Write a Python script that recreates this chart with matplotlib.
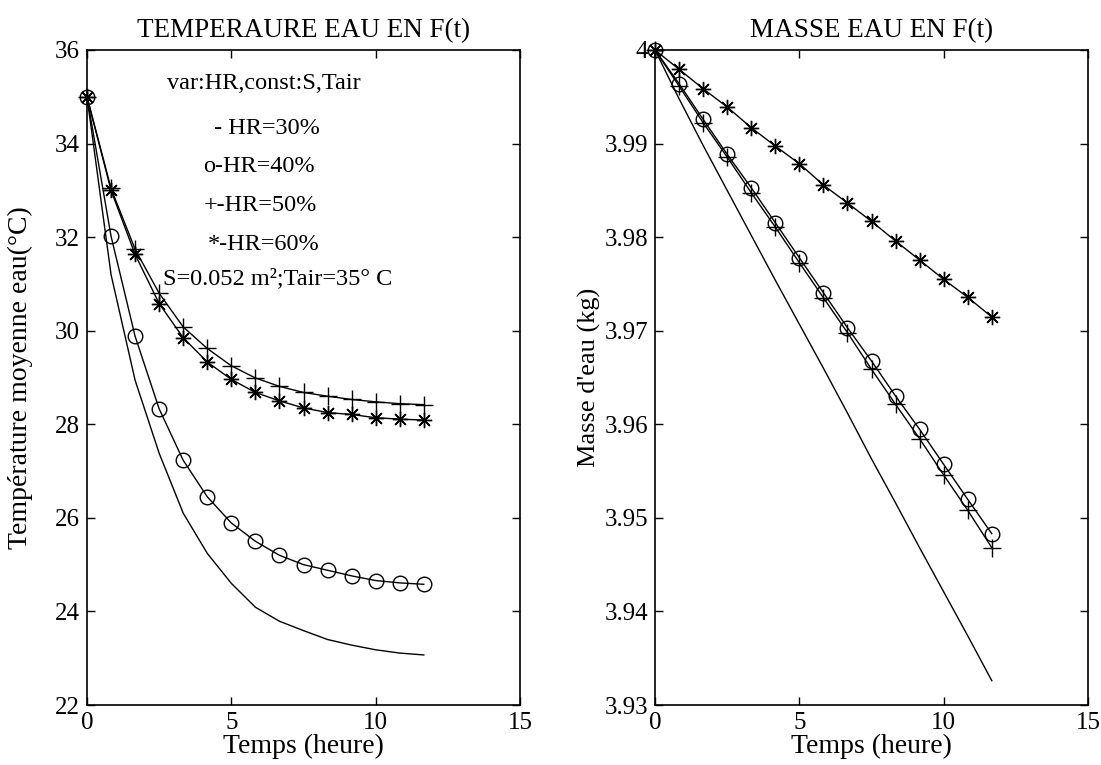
import matplotlib
matplotlib.use("Agg")
from matplotlib import pyplot as plt

plt.rcParams['font.family'] = ['Liberation Serif', 'DejaVu Serif']

# temps (heure), un point toutes les 50 min
t = [0, 0.833, 1.667, 2.5, 3.333, 4.167, 5, 5.833, 6.667, 7.5, 8.333, 9.167, 10, 10.833, 11.667]

# temperature moyenne de l'eau (C)
temp_hr30 = [35, 31.2, 28.94, 27.38, 26.10, 25.24, 24.60, 24.09, 23.79, 23.59, 23.40, 23.28, 23.18, 23.11, 23.07]
temp_hr40 = [35, 32.02, 29.88, 28.33, 27.23, 26.45, 25.89, 25.50, 25.20, 25.00, 24.88, 24.76, 24.66, 24.61, 24.58]
temp_hr50 = [35, 33.04, 31.74, 30.80, 30.08, 29.62, 29.25, 28.99, 28.81, 28.68, 28.60, 28.53, 28.48, 28.44, 28.42]
temp_hr60 = [35, 33.00, 31.63, 30.58, 29.85, 29.33, 28.96, 28.68, 28.50, 28.35, 28.25, 28.21, 28.14, 28.11, 28.09]

# masse d'eau (kg)
masse_hr30 = [4.0, 3.9948, 3.9898, 3.9850, 3.9802, 3.9754, 3.9707, 3.9660, 3.9612, 3.9563, 3.9516, 3.9468, 3.9421, 3.9374, 3.9326]
masse_hr40 = [4.0, 3.9964, 3.99259, 3.98885, 3.98528, 3.98154, 3.97780, 3.97406, 3.97032, 3.96676, 3.96302, 3.95946, 3.95572, 3.95198, 3.94831]
masse_hr50 = [4.0, 3.99615, 3.99223, 3.98856, 3.98475, 3.98108, 3.97727, 3.97353, 3.96979, 3.96588, 3.96213, 3.95846, 3.95458, 3.95081, 3.94681]
masse_hr60 = [4.0, 3.99794, 3.99586, 3.99391, 3.99170, 3.98974, 3.98785, 3.98557, 3.98365, 3.98169, 3.97959, 3.97755, 3.97549, 3.97357, 3.97147]

x_ticks = [0, 5, 10, 15]
temp_ticks = [22, 24, 26, 28, 30, 32, 34, 36]
masse_ticks = [3.93, 3.94, 3.95, 3.96, 3.97, 3.98, 3.99, 4.0]
masse_labels = ['3.93', '3.94', '3.95', '3.96', '3.97', '3.98', '3.99', '4']

legende = ['var:HR,const:S,Tair', ' - HR=30%', 'o-HR=40%', '+-HR=50%', '*-HR=60%', 'S=0.052 m²;Tair=35° C']
ann_x = [2.78, 4.2, 4.03, 4.03, 4.2, 2.64]
ann_y = [35.29, 34.33, 33.50, 32.68, 31.85, 31.12]

fig = plt.figure(figsize=(11.01, 7.65), dpi=100)
W, H = 1101, 765
ax1 = fig.add_axes([87/W, 1-705/H, 433/W, 655/H])
ax2 = fig.add_axes([655/W, 1-705/H, 433/W, 655/H])

lw = 1.0
star = (8, 2, 0)

def style(ax):
    ax.tick_params(direction='in', length=6, width=1, top=True, right=True,
                   labelsize=18, pad=5)
    for s in ax.spines.values():
        s.set_linewidth(1.2)

# --- temperature ---
ax1.plot(t, temp_hr30, '-', color='k', lw=lw)
ax1.plot(t, temp_hr40, '-', color='k', lw=lw, marker='o', mfc='none', ms=10.5, mew=1)
ax1.plot(t, temp_hr50, '-', color='k', lw=lw, marker='+', ms=13, mew=1)
ax1.plot(t, temp_hr60, '-', color='k', lw=lw, marker=star, ms=11, mew=1)
ax1.set_xlim(0, 15)
ax1.set_ylim(22, 36)
ax1.set_xticks(x_ticks)
ax1.set_yticks(temp_ticks)
ax1.set_title('TEMPERAURE EAU EN F(t)', fontsize=19.5, pad=9)
ax1.set_xlabel('Temps (heure)', fontsize=20, labelpad=0)
ax1.set_ylabel('Température moyenne eau(°C)', fontsize=20)
ax1.yaxis.set_label_coords(-0.125, 0.5)
style(ax1)

for s, xx, yy in zip(legende, ann_x, ann_y):
    ax1.text(xx, yy, s, fontsize=17.5, ha='left', va='center')

# --- masse ---
ax2.plot(t, masse_hr30, '-', color='k', lw=lw)
ax2.plot(t, masse_hr40, '-', color='k', lw=lw, marker='o', mfc='none', ms=10.5, mew=1)
ax2.plot(t, masse_hr50, '-', color='k', lw=lw, marker='+', ms=13, mew=1)
ax2.plot(t, masse_hr60, '-', color='k', lw=lw, marker=star, ms=11, mew=1)
ax2.set_xlim(0, 15)
ax2.set_ylim(3.93, 4.0)
ax2.set_xticks(x_ticks)
ax2.set_yticks(masse_ticks)
ax2.set_yticklabels(masse_labels)
ax2.set_title('MASSE EAU EN F(t)', fontsize=19.5, pad=9)
ax2.set_xlabel('Temps (heure)', fontsize=20, labelpad=0)
ax2.set_ylabel("Masse d'eau (kg)", fontsize=19)
ax2.yaxis.set_label_coords(-0.124, 0.5)
style(ax2)

for ax in (ax1, ax2):
    for m in ax.lines:
        m.set_clip_on(False)

fig.savefig('out.png', dpi=100)
